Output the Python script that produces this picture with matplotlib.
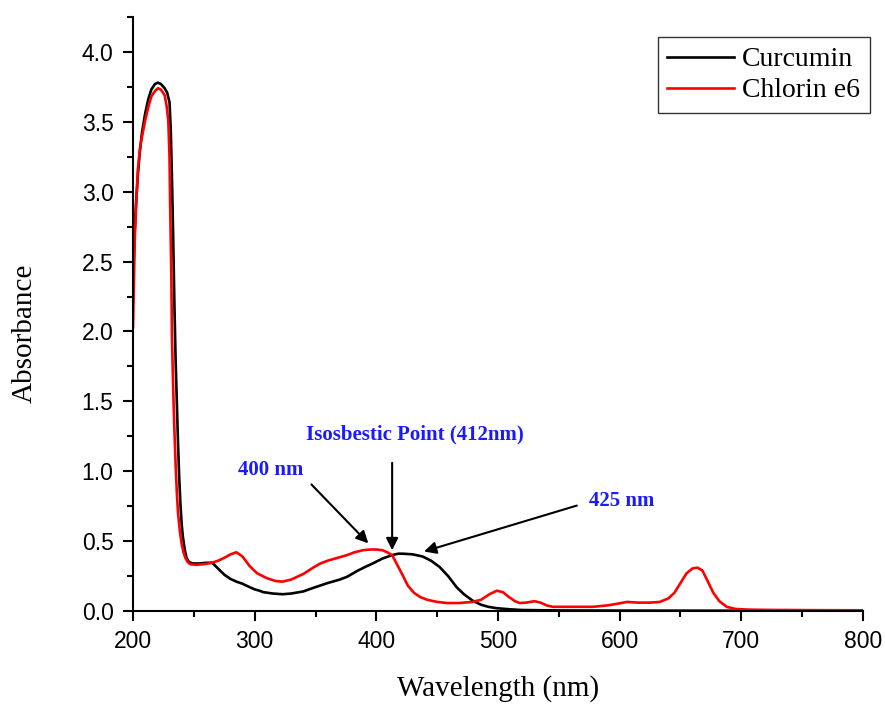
import matplotlib
matplotlib.use('Agg')
import matplotlib.pyplot as plt

# Curcumin spectrum
curcumin_wl = [200, 201, 202.5, 204, 205.5, 207.5, 210, 212.5, 215, 218, 220.5, 223, 226, 228, 230,
               231, 232, 233, 234, 235, 236, 237, 238, 239, 240, 241, 242.5, 244, 246, 249, 255,
               260, 265, 268, 271.5, 275, 280, 285, 290, 296, 300, 304, 307, 315, 323, 330, 340,
               348, 360, 370, 376, 385, 392, 397, 405, 413, 418, 422, 430, 438, 445, 452, 459,
               466, 472, 479, 486, 492, 499, 510, 520, 550, 600, 700, 800]
curcumin_abs = [2.35, 2.65, 2.92, 3.12, 3.28, 3.43, 3.56, 3.66, 3.73, 3.77, 3.78, 3.77, 3.74, 3.71, 3.64,
                3.45, 3.1, 2.68, 2.2, 1.8, 1.5, 1.2, 0.95, 0.76, 0.62, 0.53, 0.44, 0.38, 0.35, 0.34, 0.34,
                0.345, 0.345, 0.32, 0.29, 0.26, 0.23, 0.21, 0.195, 0.17, 0.155, 0.145, 0.135, 0.125, 0.12, 0.125, 0.14,
                0.165, 0.2, 0.225, 0.245, 0.29, 0.32, 0.34, 0.375, 0.40, 0.41, 0.41, 0.405, 0.39, 0.36, 0.315, 0.25,
                0.17, 0.12, 0.075, 0.045, 0.03, 0.02, 0.012, 0.007, 0.004, 0.003, 0.002, 0.002]

# Chlorin e6 spectrum
chlorin_wl = [200, 201.5, 203, 204, 206, 210, 213, 215, 218, 220.5, 223, 226, 227.5, 229, 230,
              230.5, 231.5, 232, 233, 234, 235, 236, 237, 238.5, 240, 241.5, 243, 245, 247, 252,
              258, 265, 270, 275, 280, 285, 290, 296, 302, 310, 317, 323, 330, 340, 348, 354,
              360, 368, 376, 382, 389, 395, 400, 405, 409, 413, 416, 419, 422, 426, 431, 436,
              442, 450, 458, 468, 479, 486, 493, 499, 504, 509, 514, 518, 523, 530, 535, 540,
              545, 560, 578, 590, 600, 606, 615, 625, 633, 640, 645, 650, 655, 660, 664, 668,
              672, 677, 682, 688, 695, 705, 720, 760, 800]
chlorin_abs = [2.03, 2.68, 2.98, 3.16, 3.33, 3.51, 3.62, 3.68, 3.72, 3.74, 3.73, 3.69, 3.62, 3.51, 3.25,
               2.92, 2.4, 1.96, 1.6, 1.3, 1.05, 0.85, 0.7, 0.57, 0.48, 0.42, 0.38, 0.35, 0.335, 0.33,
               0.335, 0.345, 0.36, 0.38, 0.405, 0.42, 0.39, 0.32, 0.27, 0.235, 0.215, 0.21, 0.225, 0.265, 0.31, 0.34,
               0.36, 0.38, 0.40, 0.42, 0.435, 0.44, 0.44, 0.435, 0.42, 0.40, 0.35, 0.30, 0.25, 0.18, 0.13, 0.10,
               0.08, 0.065, 0.057, 0.057, 0.065, 0.08, 0.12, 0.145, 0.135, 0.10, 0.07, 0.057, 0.06, 0.07, 0.06, 0.04,
               0.03, 0.03, 0.03, 0.04, 0.055, 0.065, 0.06, 0.06, 0.065, 0.09, 0.13, 0.2, 0.27, 0.305, 0.31, 0.29,
               0.22, 0.13, 0.07, 0.03, 0.015, 0.01, 0.008, 0.006, 0.005]

x_ticks = [200, 300, 400, 500, 600, 700, 800]
y_ticks = [0.0, 0.5, 1.0, 1.5, 2.0, 2.5, 3.0, 3.5, 4.0]

serif = 'Liberation Serif'
sans = 'Liberation Sans'

fig = plt.figure(figsize=(8.85, 7.04), dpi=100)
ax = fig.add_axes([0.1503, 0.1321, 0.8248, 0.8438])

ax.plot(curcumin_wl, curcumin_abs, color='black', lw=1.9, label='Curcumin')
ax.plot(chlorin_wl, chlorin_abs, color='#ff0000', lw=1.9, label='Chlorin e6')

ax.set_xlim(200, 800)
ax.set_ylim(0, 4.25)
ax.set_xticks(x_ticks)
ax.set_yticks(y_ticks)
ax.set_xticks(range(250, 800, 100), minor=True)
ax.set_yticks([0.25 + 0.5 * i for i in range(9)], minor=True)
ax.set_yticklabels(['%.1f' % v for v in y_ticks])

ax.spines['top'].set_visible(False)
ax.spines['right'].set_visible(False)
for s in ['left', 'bottom']:
    ax.spines[s].set_linewidth(1.5)
ax.tick_params(which='major', direction='out', length=7, width=1.5, labelsize=16.5, pad=7)
ax.tick_params(which='minor', direction='out', length=4, width=1.5)
for lbl in ax.get_xticklabels() + ax.get_yticklabels():
    lbl.set_fontfamily(sans)

ax.set_xlabel('Wavelength (nm)', fontsize=21, family=serif, va='center')
ax.set_ylabel('Absorbance', fontsize=21, family=serif, va='center')
ax.xaxis.set_label_coords(0.5, -0.13)
ax.yaxis.set_label_coords(-0.149, 0.468)

# annotations
blue = '#1a1aff'
arrow = dict(arrowstyle='-|>', color='black', lw=1.5, mutation_scale=18)
ax.annotate('', xy=(395, 0.47), xytext=(345, 0.92), arrowprops=arrow)
ax.annotate('', xy=(413, 0.415), xytext=(413, 1.08), arrowprops=arrow)
ax.annotate('', xy=(437, 0.42), xytext=(567, 0.76), arrowprops=arrow)
ax.text(432, 1.26, 'Isosbestic Point (412nm)', color=blue, fontsize=15, fontweight='bold',
        family=serif, ha='center', va='center')
ax.text(313, 1.01, '400 nm', color=blue, fontsize=15, fontweight='bold', family=serif,
        ha='center', va='center')
ax.text(602, 0.79, '425 nm', color=blue, fontsize=15, fontweight='bold', family=serif,
        ha='center', va='center')

leg = ax.legend(loc='upper right', bbox_to_anchor=(0.983, 0.947), bbox_transform=fig.transFigure,
                prop={'family': serif, 'size': 20}, frameon=True, fancybox=False,
                handlelength=2.4, handletextpad=0.3, borderpad=0.35, labelspacing=0.2,
                borderaxespad=0)
leg.get_frame().set_edgecolor('black')
leg.get_frame().set_linewidth(1.0)

plt.savefig('out.png', dpi=100)
plt.close()
